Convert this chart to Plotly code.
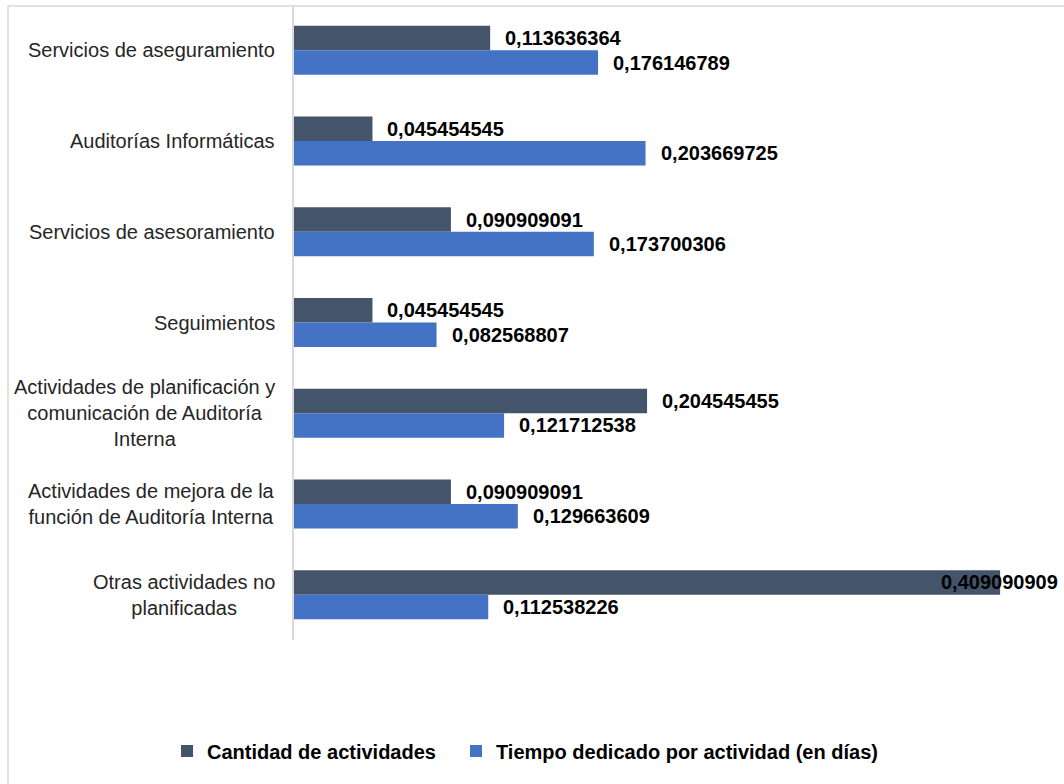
import plotly.graph_objects as go

categories = [
    "Servicios de aseguramiento",
    "Auditorías Informáticas",
    "Servicios de asesoramiento",
    "Seguimientos",
    "Actividades de planificación y<br>comunicación de Auditoría<br>Interna",
    "Actividades de mejora de la<br>función de Auditoría Interna",
    "Otras actividades no<br>planificadas",
]
cantidad = [0.113636364, 0.045454545, 0.090909091, 0.045454545, 0.204545455, 0.090909091, 0.409090909]
tiempo = [0.176146789, 0.203669725, 0.173700306, 0.082568807, 0.121712538, 0.129663609, 0.112538226]
series_names = ["Cantidad de actividades", "Tiempo dedicado por actividad (en días)"]
colors = ["#44546A", "#4472C4"]

W, H = 1064, 784
ML, MR, MT, MB = 294, 0, 5, 144
plot_w = W - ML - MR
plot_h = H - MT - MB
XMAX = 0.4461
BARGAP = 0.46
ids = list(range(len(categories)))

FONT = "Liberation Sans, Arial, sans-serif"
legend_ids = ["legend", "legend2"]
legend_text_px = [208, 497]

fig = go.Figure()
for name, vals, col, lg in zip(series_names, [cantidad, tiempo], colors, legend_ids):
    fig.add_trace(go.Bar(
        y=ids, x=vals, orientation="h", name=name, legend=lg,
        marker=dict(color=col, line=dict(width=0)),
        hoverinfo="x",
    ))

annotations = []
for i, c in enumerate(categories):
    annotations.append(dict(
        x=0, xref="paper", y=i, yref="y", text=c, showarrow=False,
        xanchor="right", yanchor="middle", align="center", xshift=-17,
        font=dict(family=FONT, size=20, color="#262626"),
    ))

half = (1 - BARGAP) / 4
for k, vals in enumerate([cantidad, tiempo]):
    off = -half if k == 0 else half
    for i, v in enumerate(vals):
        txt = f"{v:.9f}".replace(".", ",")
        end_px = v / XMAX * plot_w
        est_w = len(txt) * 11.0
        if end_px + 13 + est_w > plot_w:
            ann = dict(x=XMAX, xanchor="right", xshift=-4)
        else:
            ann = dict(x=v, xanchor="left", xshift=13)
        ann.update(dict(
            y=i + off, xref="x", yref="y", text=txt, showarrow=False,
            yanchor="middle",
            font=dict(family=FONT, size=20, color="#000000", weight="bold"),
        ))
        annotations.append(ann)

legend_common = dict(
    orientation="h", xanchor="left", y=(plot_h - (751 - MT)) / plot_h, yanchor="middle",
    font=dict(family=FONT, size=20, color="#000000", weight="bold"),
    bgcolor="rgba(0,0,0,0)", itemclick=False, itemdoubleclick=False,
)

fig.update_layout(
    width=W, height=H,
    margin=dict(l=ML, r=MR, t=MT, b=MB, pad=0),
    paper_bgcolor="white", plot_bgcolor="white",
    barmode="group", bargap=BARGAP, bargroupgap=0,
    showlegend=True,
    legend=dict(x=(legend_text_px[0] - 41 - ML) / plot_w, **legend_common),
    legend2=dict(x=(legend_text_px[1] - 41 - ML) / plot_w, **legend_common),
    xaxis=dict(range=[0, XMAX], showgrid=False, zeroline=False, showline=False,
               showticklabels=False, ticks="", fixedrange=True),
    yaxis=dict(range=[len(categories) - 0.5, -0.5], showgrid=False, zeroline=False,
               showline=True, linecolor="#D9D9D9", linewidth=1.5,
               showticklabels=False, ticks="", fixedrange=True),
    annotations=annotations,
    shapes=[dict(type="rect", xref="paper", yref="paper",
                 x0=(8 - ML) / plot_w, x1=1.05,
                 y0=-0.3, y1=1 + (MT - 6) / plot_h,
                 line=dict(color="#D9D9D9", width=1.5), layer="below")],
)

fig.write_html(
    "out.html",
    config={"displayModeBar": False},
    post_script="document.body.style.margin='0';document.body.style.padding='0';",
)
